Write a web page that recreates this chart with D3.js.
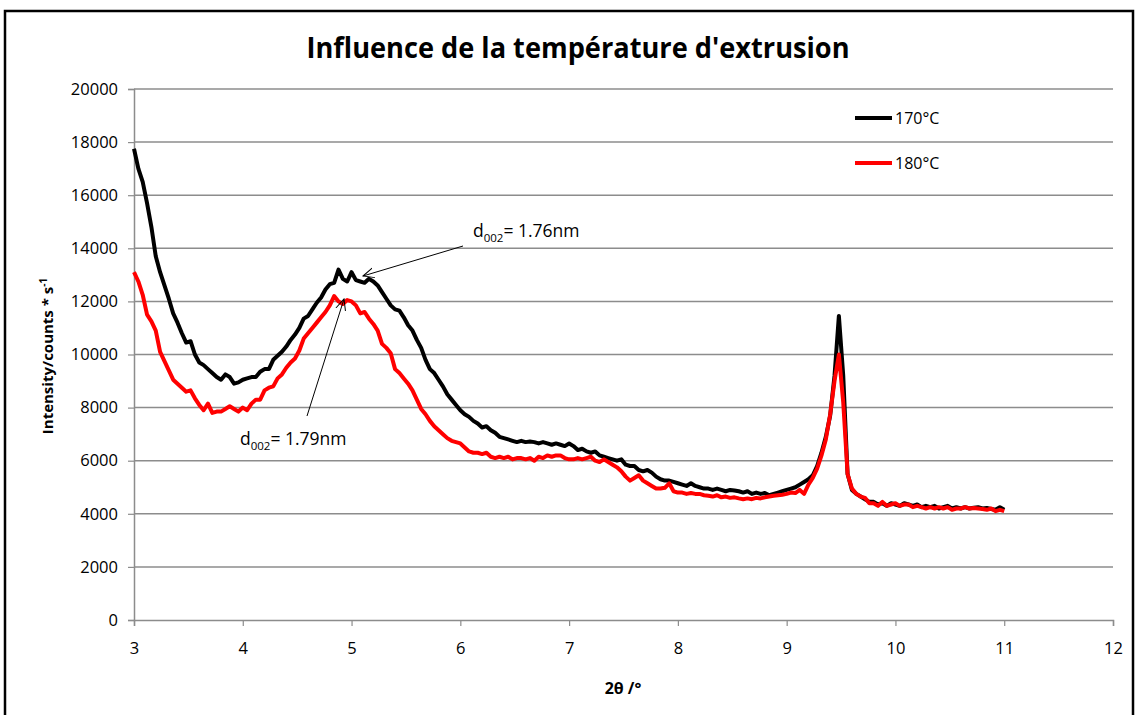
<!DOCTYPE html>
<html>
<head>
<meta charset="utf-8">
<script src="https://cdn.jsdelivr.net/npm/d3@7"></script>
<style>
  body { margin: 0; background: #fff; }
  svg { display: block; }
  text { font-family: "Open Sans", "Liberation Sans", sans-serif; fill: #000; }
</style>
</head>
<body>
<div id="chart"></div>
<script>
// 2theta scan positions (deg), step 0.04
var twoTheta = [
  3.00,3.04,3.08,3.12,3.16,3.20,3.24,3.28,3.32,3.36,
  3.40,3.44,3.48,3.52,3.56,3.60,3.64,3.68,3.72,3.76,
  3.80,3.84,3.88,3.92,3.96,4.00,4.04,4.08,4.12,4.16,
  4.20,4.24,4.28,4.32,4.36,4.40,4.44,4.48,4.52,4.56,
  4.60,4.64,4.68,4.72,4.76,4.80,4.84,4.88,4.92,4.96,
  5.00,5.04,5.08,5.12,5.16,5.20,5.24,5.28,5.32,5.36,
  5.40,5.44,5.48,5.52,5.56,5.60,5.64,5.68,5.72,5.76,
  5.80,5.84,5.88,5.92,5.96,6.00,6.04,6.08,6.12,6.16,
  6.20,6.24,6.28,6.32,6.36,6.40,6.44,6.48,6.52,6.56,
  6.60,6.64,6.68,6.72,6.76,6.80,6.84,6.88,6.92,6.96,
  7.00,7.04,7.08,7.12,7.16,7.20,7.24,7.28,7.32,7.36,
  7.40,7.44,7.48,7.52,7.56,7.60,7.64,7.68,7.72,7.76,
  7.80,7.84,7.88,7.92,7.96,8.00,8.04,8.08,8.12,8.16,
  8.20,8.24,8.28,8.32,8.36,8.40,8.44,8.48,8.52,8.56,
  8.60,8.64,8.68,8.72,8.76,8.80,8.84,8.88,8.92,8.96,
  9.00,9.04,9.08,9.12,9.16,9.20,9.24,9.28,9.32,9.36,
  9.40,9.44,9.48,9.52,9.56,9.60,9.64,9.68,9.72,9.76,
  9.80,9.84,9.88,9.92,9.96,10.00,10.04,10.08,10.12,10.16,
  10.20,10.24,10.28,10.32,10.36,10.40,10.44,10.48,10.52,10.56,
  10.60,10.64,10.68,10.72,10.76,10.80,10.84,10.88,10.92,10.96,
  11.00
];

// intensities, counts/s
var i170 = [
  17750,17000,16500,15700,14800,13700,13100,12600,12100,11550,
  11200,10800,10450,10500,10000,9700,9600,9450,9300,9150,
  9050,9250,9150,8900,8950,9050,9100,9150,9150,9350,
  9450,9450,9800,9950,10100,10300,10550,10750,11000,11350,
  11450,11700,11950,12150,12450,12650,12700,13200,12850,12750,
  13100,12800,12750,12700,12850,12750,12600,12350,12100,11850,
  11700,11650,11400,11100,10900,10550,10250,9800,9450,9300,
  9050,8800,8500,8300,8100,7900,7750,7650,7500,7400,
  7250,7300,7150,7050,6900,6850,6800,6750,6700,6750,
  6700,6720,6700,6650,6700,6650,6600,6650,6600,6550,
  6650,6550,6400,6450,6350,6300,6350,6200,6150,6100,
  6050,6000,6050,5850,5800,5800,5650,5600,5650,5550,
  5400,5300,5250,5250,5200,5150,5100,5050,5150,5050,
  5000,4950,4950,4900,4950,4900,4850,4900,4880,4850,
  4800,4850,4750,4800,4750,4780,4700,4750,4800,4850,
  4900,4950,5000,5100,5200,5300,5450,5800,6300,6900,
  7700,9200,11450,9200,5500,4900,4750,4650,4550,4450,
  4450,4350,4400,4300,4400,4350,4300,4400,4350,4300,
  4350,4250,4300,4250,4300,4200,4250,4300,4200,4250,
  4200,4250,4200,4230,4250,4200,4220,4180,4150,4250,
  4150
];

var i180 = [
  13100,12750,12250,11500,11250,10900,10100,9750,9400,9050,
  8900,8750,8600,8650,8350,8100,7900,8150,7800,7850,
  7850,7950,8050,7950,7850,8000,7900,8150,8300,8300,
  8650,8750,8800,9100,9250,9500,9700,9850,10150,10600,
  10800,11000,11200,11400,11600,11850,12200,12000,11900,12050,
  12000,11850,11550,11600,11350,11150,10900,10400,10250,10050,
  9450,9300,9100,8900,8650,8300,7950,7750,7500,7300,
  7150,7000,6850,6750,6700,6650,6500,6350,6300,6300,
  6250,6300,6150,6100,6150,6100,6150,6050,6100,6100,
  6050,6100,6000,6150,6100,6200,6150,6200,6200,6100,
  6050,6050,6100,6050,6100,6150,6000,5950,6050,5950,
  5850,5750,5600,5400,5250,5350,5450,5250,5150,5050,
  4950,4950,4980,5150,4850,4800,4800,4750,4780,4750,
  4750,4700,4680,4650,4700,4620,4650,4600,4620,4580,
  4550,4580,4550,4600,4580,4620,4650,4680,4700,4720,
  4750,4800,4780,4900,4750,5100,5350,5700,6200,6800,
  7750,9000,10000,8200,5500,4950,4750,4650,4600,4400,
  4400,4300,4450,4300,4350,4400,4300,4350,4350,4250,
  4300,4250,4200,4250,4200,4250,4200,4250,4150,4200,
  4200,4250,4200,4220,4200,4180,4150,4200,4100,4150,
  4100
];

var seriesNames = ["170°C", "180°C"];
var seriesColors = ["#000000", "#ff0000"];
var xTicks = [3, 4, 5, 6, 7, 8, 9, 10, 11, 12];
var yTicks = [0, 2000, 4000, 6000, 8000, 10000, 12000, 14000, 16000, 18000, 20000];

var W = 1136, H = 715;

var svg = d3.select("#chart").append("svg")
  .attr("width", W)
  .attr("height", H);

// outer frame
svg.append("rect")
  .attr("x", 5).attr("y", 11)
  .attr("width", 1128).attr("height", 720)
  .attr("fill", "none")
  .attr("stroke", "#000")
  .attr("stroke-width", 2.5);

var x = d3.scaleLinear().domain([3, 12]).range([134, 1113]);
var y = d3.scaleLinear().domain([0, 20000]).range([620, 89]);

// gridlines
svg.append("g")
  .selectAll("line")
  .data(yTicks.slice(1))
  .enter().append("line")
    .attr("x1", x(3)).attr("x2", x(12))
    .attr("y1", function (d) { return y(d); })
    .attr("y2", function (d) { return y(d); })
    .attr("stroke", "#8c8c8c")
    .attr("stroke-width", 1.5);

// Y axis
var yAxis = svg.append("g")
  .attr("transform", "translate(" + x(3) + ",0)")
  .call(d3.axisLeft(y).tickValues(yTicks).tickSize(6).tickPadding(10).tickFormat(d3.format("d")));
yAxis.select(".domain").attr("stroke", "#8c8c8c").attr("stroke-width", 1.5);
yAxis.selectAll(".tick line").attr("stroke", "#8c8c8c").attr("stroke-width", 1.2);
yAxis.selectAll(".tick text").style("font-size", "16.5px").style("font-family", "'Open Sans'");

// X axis
var xAxis = svg.append("g")
  .attr("transform", "translate(0," + y(0) + ")")
  .call(d3.axisBottom(x).tickValues(xTicks).tickSize(6).tickPadding(16).tickFormat(d3.format("d")));
xAxis.select(".domain").attr("stroke", "#8c8c8c").attr("stroke-width", 1.5);
xAxis.selectAll(".tick line").attr("stroke", "#8c8c8c").attr("stroke-width", 1.2);
xAxis.selectAll(".tick text").style("font-size", "16.5px").style("font-family", "'Open Sans'");

// lines
var line = d3.line()
  .x(function (d) { return x(d[0]); })
  .y(function (d) { return y(d[1]); });

[i170, i180].forEach(function (vals, k) {
  svg.append("path")
    .datum(twoTheta.map(function (t, i) { return [t, vals[i]]; }))
    .attr("fill", "none")
    .attr("stroke", seriesColors[k])
    .attr("stroke-width", 4)
    .attr("stroke-linejoin", "round")
    .attr("d", line);
});

// title
svg.append("text")
  .attr("x", 578).attr("y", 58)
  .attr("text-anchor", "middle")
  .attr("textLength", 543)
  .attr("lengthAdjust", "spacingAndGlyphs")
  .style("font-size", "28px")
  .style("font-weight", "bold")
  .text("Influence de la température d'extrusion");

// axis titles
var yt = svg.append("text")
  .attr("transform", "translate(53,356) rotate(-90)")
  .attr("text-anchor", "middle")
  .style("font-size", "15px")
  .style("font-weight", "bold");
yt.append("tspan").text("Intensity/counts * s");
yt.append("tspan").attr("dy", -6).style("font-size", "10px").text("-1");

svg.append("text")
  .attr("x", 623).attr("y", 694)
  .attr("text-anchor", "middle")
  .style("font-size", "16px")
  .style("font-weight", "bold")
  .text("2θ /°");

// legend
var legend = svg.append("g");
seriesNames.forEach(function (name, k) {
  var ly = 118 + k * 45;
  legend.append("line")
    .attr("x1", 855).attr("x2", 892)
    .attr("y1", ly).attr("y2", ly)
    .attr("stroke", seriesColors[k])
    .attr("stroke-width", 4);
  legend.append("text")
    .attr("x", 895).attr("y", ly + 6)
    .style("font-size", "16px")
    .text(name);
});

// annotations
svg.append("defs").append("marker")
  .attr("id", "arr")
  .attr("viewBox", "0 0 12 12")
  .attr("refX", 11).attr("refY", 6)
  .attr("markerWidth", 12).attr("markerHeight", 12)
  .attr("markerUnits", "userSpaceOnUse")
  .attr("orient", "auto")
  .append("path")
    .attr("d", "M0,1 L11,6 L0,11")
    .attr("fill", "none")
    .attr("stroke", "#000")
    .attr("stroke-width", 1);

function annot(tx, ty, x1, y1, x2, y2, label) {
  svg.append("line")
    .attr("x1", x1).attr("y1", y1)
    .attr("x2", x2).attr("y2", y2)
    .attr("stroke", "#000")
    .attr("stroke-width", 1)
    .attr("marker-end", "url(#arr)");
  var t = svg.append("text").attr("x", tx).attr("y", ty).style("font-size", "17.5px");
  t.append("tspan").text("d");
  t.append("tspan").attr("dy", 5).style("font-size", "11.5px").text("002");
  t.append("tspan").attr("dy", -5).text("= " + label);
}
annot(473, 237, 463, 246, 363, 276, "1.76nm");
annot(240, 445, 307, 416, 344, 299, "1.79nm");
</script>
</body>
</html>
